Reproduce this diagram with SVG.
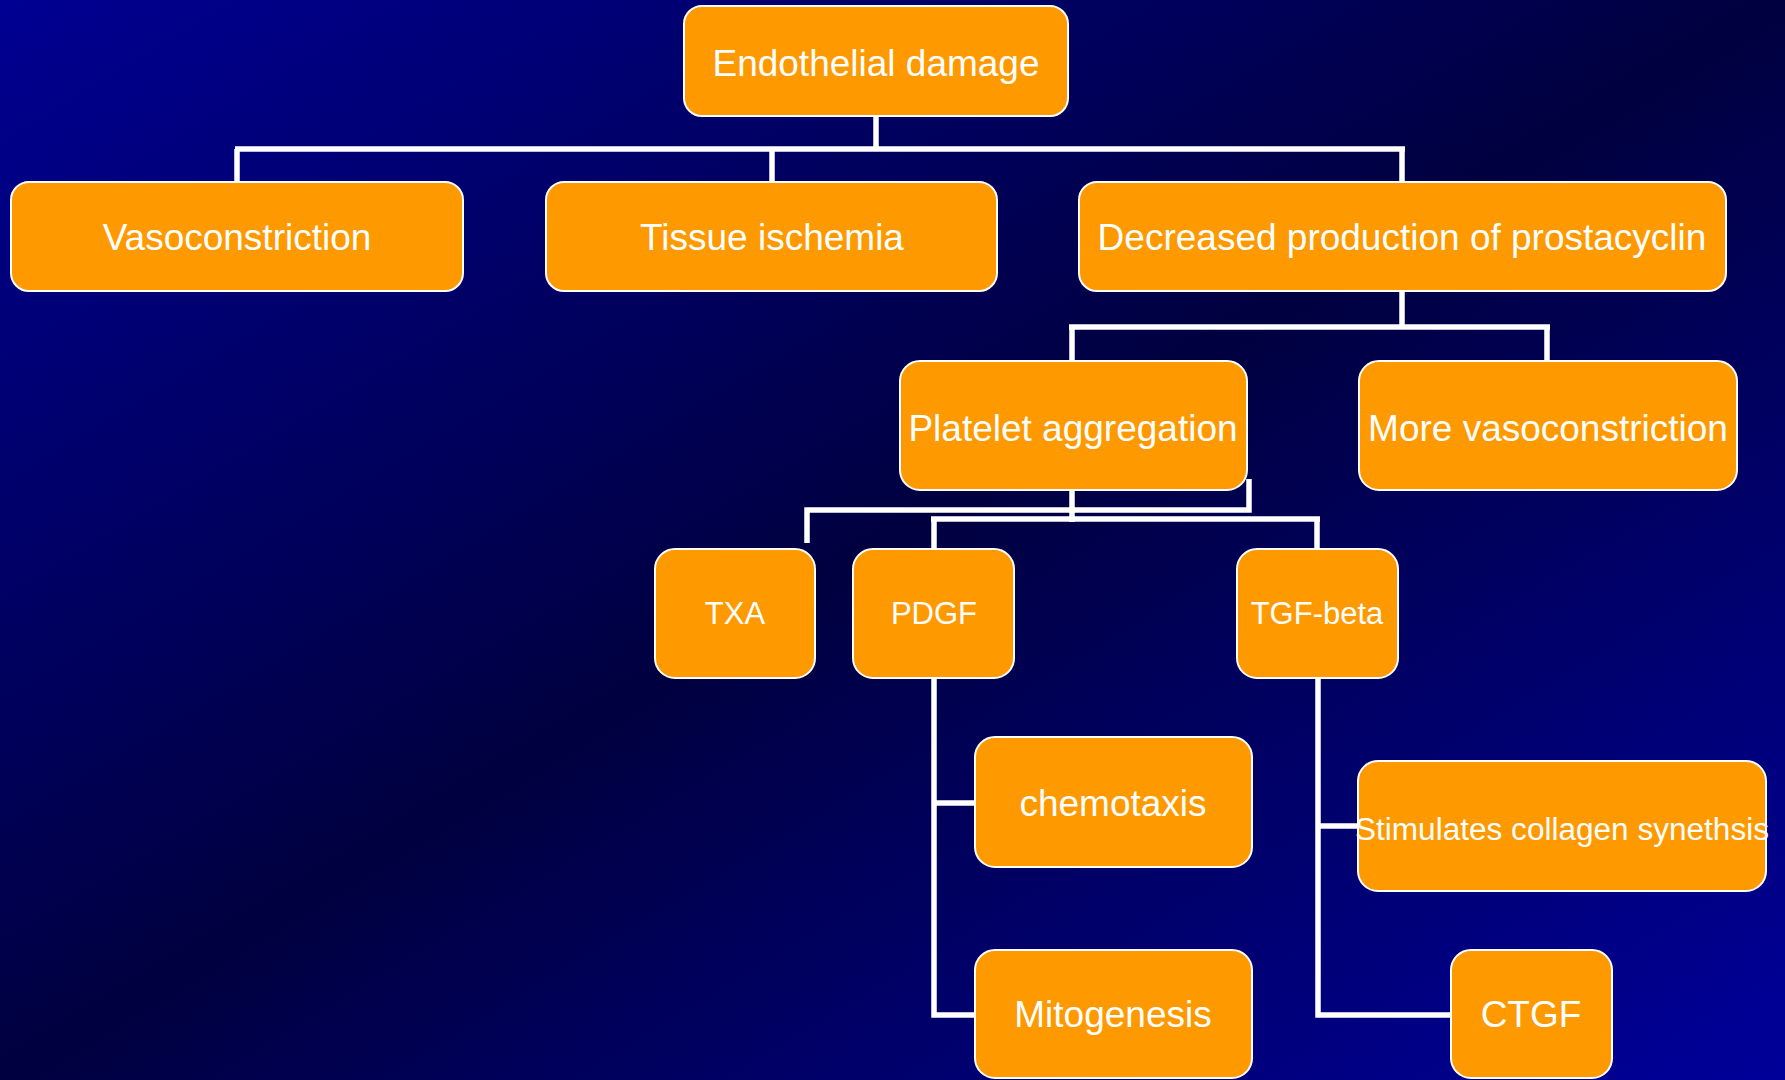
<svg xmlns="http://www.w3.org/2000/svg" width="1785" height="1080" viewBox="0 0 1785 1080">
<defs>
<linearGradient id="bg" x1="0" y1="0" x2="1" y2="1">
<stop offset="0" stop-color="#000092"/>
<stop offset="0.5" stop-color="#000040"/>
<stop offset="1" stop-color="#00009A"/>
</linearGradient>
</defs>
<style>
.box{fill:#FF9900;stroke:#FFFFFF;stroke-width:2}
.t{fill:#FFFFFF;font-family:"Liberation Sans",Arial,sans-serif;font-size:37px;text-anchor:middle}
.s{font-size:31px}
.c{fill:none;stroke:#FFFFFF;stroke-width:5.5;stroke-linejoin:miter;stroke-linecap:butt}
</style>
<rect x="0" y="0" width="1785" height="1080" fill="url(#bg)"/>
<g id="connectors">
<path class="c" d="M876,116 V149 M235,149 H1405 M237,149 V182 M772,149 V182 M1402,149 V182"/>
<path class="c" d="M1402,291 V327 M1069,327 H1550 M1072,327 V361 M1547,327 V361"/>
<path class="c" d="M1072,490 V522"/>
<path class="c" d="M1249,479 V510 H807 V543"/>
<path class="c" d="M931,519 H1320 M934,519 V549 M1317,519 V549"/>
<path class="c" d="M934,678 V1015 H976 M934,803 H976"/>
<path class="c" d="M1318,678 V1015 H1451 M1318,826 H1359"/>
</g>
<g id="n-endothelial"><rect class="box" x="684" y="6" width="384" height="110" rx="18"/><text class="t" x="876" y="76">Endothelial damage</text></g>
<g id="n-vasoconstriction"><rect class="box" x="11" y="182" width="452" height="109" rx="18"/><text class="t" x="237" y="250">Vasoconstriction</text></g>
<g id="n-ischemia"><rect class="box" x="546" y="182" width="451" height="109" rx="18"/><text class="t" x="772" y="250">Tissue ischemia</text></g>
<g id="n-prostacyclin"><rect class="box" x="1079" y="182" width="647" height="109" rx="18"/><text class="t" x="1402" y="250">Decreased production of prostacyclin</text></g>
<g id="n-platelet"><rect class="box" x="900" y="361" width="347" height="129" rx="20"/><text class="t" x="1073" y="441">Platelet aggregation</text></g>
<g id="n-morevaso"><rect class="box" x="1359" y="361" width="378" height="129" rx="20"/><text class="t" x="1548" y="441">More vasoconstriction</text></g>
<g id="n-txa"><rect class="box" x="655" y="549" width="160" height="129" rx="20"/><text class="t s" x="735" y="624">TXA</text></g>
<g id="n-pdgf"><rect class="box" x="853" y="549" width="161" height="129" rx="20"/><text class="t s" x="934" y="624">PDGF</text></g>
<g id="n-tgf"><rect class="box" x="1237" y="549" width="161" height="129" rx="20"/><text class="t s" x="1317" y="624">TGF-beta</text></g>
<g id="n-chemotaxis"><rect class="box" x="975" y="737" width="277" height="130" rx="20"/><text class="t" x="1113" y="816">chemotaxis</text></g>
<g id="n-collagen"><rect class="box" x="1358" y="761" width="408" height="130" rx="20"/><text class="t s" x="1562" y="840" textLength="414" lengthAdjust="spacingAndGlyphs">Stimulates collagen synethsis</text></g>
<g id="n-mitogenesis"><rect class="box" x="975" y="950" width="277" height="128" rx="20"/><text class="t" x="1113" y="1027">Mitogenesis</text></g>
<g id="n-ctgf"><rect class="box" x="1451" y="950" width="161" height="128" rx="20"/><text class="t" x="1531" y="1027">CTGF</text></g>
</svg>
